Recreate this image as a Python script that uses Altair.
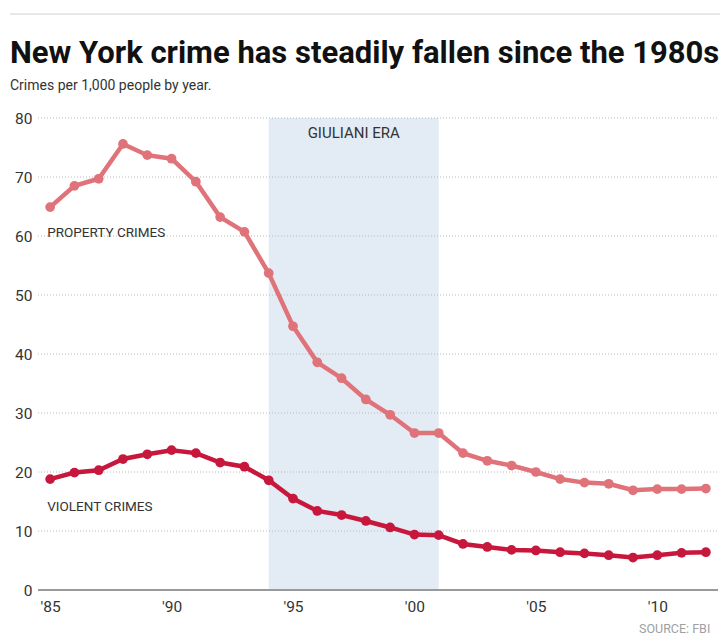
import altair as alt
import pandas as pd

years = list(range(1985, 2013))
property_crimes = [64.9, 68.5, 69.7, 75.6, 73.7, 73.1, 69.2, 63.2, 60.7, 53.7,
                   44.7, 38.6, 35.9, 32.3, 29.7, 26.6, 26.6, 23.2, 21.9, 21.1,
                   20.0, 18.8, 18.2, 18.0, 16.9, 17.1, 17.1, 17.2]
violent_crimes = [18.8, 19.9, 20.3, 22.2, 23.0, 23.7, 23.2, 21.6, 20.9, 18.6,
                  15.5, 13.4, 12.7, 11.7, 10.6, 9.4, 9.3, 7.8, 7.3, 6.8,
                  6.7, 6.4, 6.2, 5.9, 5.5, 5.9, 6.3, 6.4]
y_ticks = [0, 10, 20, 30, 40, 50, 60, 70, 80]
x_ticks = [1985, 1990, 1995, 2000, 2005, 2010]
era_start, era_end = [1994], [2001]
era_label = ["GIULIANI ERA"]
series_labels = ["PROPERTY CRIMES", "VIOLENT CRIMES"]
series_label_y = [60.5, 14.1]

TITLE = "New York crime has steadily fallen since the 1980s"
SUBTITLE = "Crimes per 1,000 people by year."
SOURCE = "SOURCE: FBI"

FONT = "Roboto"
PROP_COLOR = "#e0737a"
VIOL_COLOR = "#c8173d"

df = pd.DataFrame({"year": years, "property": property_crimes, "violent": violent_crimes})

xscale = alt.Scale(domain=[1984.5, 2012.5], nice=False, zero=False)
yscale = alt.Scale(domain=[0, 80], nice=False)

xaxis = alt.Axis(values=x_ticks, labelExpr="\"'\" + slice(toString(datum.value), 2)",
                 domain=False, ticks=False, grid=False, labelPadding=9,
                 labelFontSize=15.5, labelColor="#333", labelFont=FONT, title=None)
yaxis = alt.Axis(values=y_ticks, domain=False, ticks=False, grid=False, labelPadding=6,
                 labelFontSize=15.5, labelColor="#333", labelFont=FONT, title=None)

band = alt.Chart(pd.DataFrame({"s": era_start, "e": era_end})).mark_rect(color="#e3ebf5").encode(
    x=alt.X("s:Q", scale=xscale, axis=xaxis),
    x2="e:Q",
    y=alt.value(0),
    y2=alt.value(472),
)

grid = alt.Chart(pd.DataFrame({"v": y_ticks[1:]})).mark_rule(
    color="#bbb", strokeDash=[1, 2], strokeWidth=1).encode(
    y=alt.Y("v:Q", scale=yscale, axis=yaxis),
    x=alt.value(0), x2=alt.value(680),
)

baseline = alt.Chart(pd.DataFrame({"v": [0]})).mark_rule(color="#9a9a9a", strokeWidth=2).encode(
    y=alt.Y("v:Q", scale=yscale),
    x=alt.value(0), x2=alt.value(680),
)

def series(col, color):
    base = alt.Chart(df).encode(
        x=alt.X("year:Q", scale=xscale, axis=xaxis),
        y=alt.Y(f"{col}:Q", scale=yscale, axis=yaxis),
    )
    return base.mark_line(color=color, strokeWidth=4.5) + base.mark_circle(color=color, size=95, opacity=1)

prop = series("property", PROP_COLOR)
viol = series("violent", VIOL_COLOR)

era_text = alt.Chart(pd.DataFrame({"x": [(era_start[0] + era_end[0]) / 2], "y": [77.5], "t": era_label})).mark_text(
    font=FONT, fontSize=15, color="#333", align="center", baseline="middle").encode(
    x=alt.X("x:Q", scale=xscale), y=alt.Y("y:Q", scale=yscale), text="t:N")

lab_text = alt.Chart(pd.DataFrame({"x": [1984.88, 1984.88], "y": series_label_y, "t": series_labels})).mark_text(
    font=FONT, fontSize=13.5, color="#333", align="left", baseline="middle").encode(
    x=alt.X("x:Q", scale=xscale), y=alt.Y("y:Q", scale=yscale), text="t:N")

top_rule = alt.Chart(pd.DataFrame({"a": [0]})).mark_rule(color="#d0d0d0", strokeWidth=1).encode(
    x=alt.value(-28), x2=alt.value(682), y=alt.value(-104))

title_text = alt.Chart(pd.DataFrame({"t": [TITLE]})).mark_text(
    font=FONT, fontSize=31, fontWeight="bold", color="#111", align="left", baseline="alphabetic").encode(
    x=alt.value(-28), y=alt.value(-55), text="t:N")

sub_text = alt.Chart(pd.DataFrame({"t": [SUBTITLE]})).mark_text(
    font=FONT, fontSize=14, color="#333", align="left", baseline="alphabetic").encode(
    x=alt.value(-28), y=alt.value(-28), text="t:N")

src_text = alt.Chart(pd.DataFrame({"t": [SOURCE]})).mark_text(
    font=FONT, fontSize=12.5, color="#a0a0a0", align="left", baseline="middle").encode(
    x=alt.value(601), y=alt.value(511), text="t:N")

chart = alt.layer(
    band, grid, baseline, prop, viol, era_text, lab_text, top_rule, title_text, sub_text, src_text
).properties(
    width=680, height=472,
    autosize=alt.AutoSizeParams(type="none"),
    padding={"left": 38, "top": 118, "right": 6, "bottom": 45},
    background="white",
).configure_view(stroke=None)

chart.save("out.html", embed_options={"renderer": "svg", "actions": False})
